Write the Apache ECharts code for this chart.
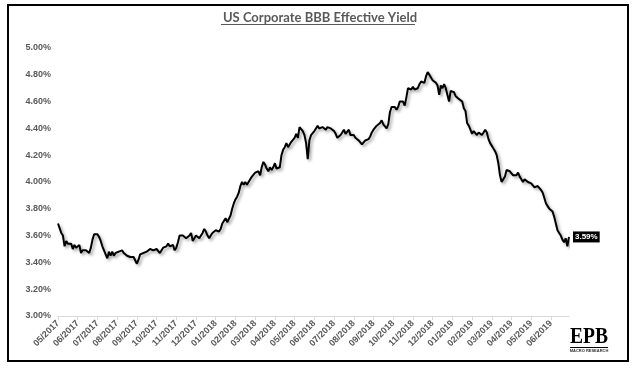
<!DOCTYPE html>
<html>
<head>
<meta charset="utf-8">
<script src="https://cdn.jsdelivr.net/npm/echarts@6/dist/echarts.min.js"></script>
<style>
html,body{margin:0;padding:0;background:#fff;}
#chart{width:640px;height:372px;}
</style>
</head>
<body>
<div id="chart"></div>
<script>
// Month tick labels (x axis)
const months = ['05/2017','06/2017','07/2017','08/2017','09/2017','10/2017','11/2017','12/2017',
  '01/2018','02/2018','03/2018','04/2018','05/2018','06/2018','07/2018','08/2018','09/2018','10/2018','11/2018','12/2018',
  '01/2019','02/2019','03/2019','04/2019','05/2019','06/2019'];

// US Corporate BBB effective yield (%), twelve readings per month
const yields = [
  [3.69, 3.68, 3.62, 3.60, 3.52, 3.56, 3.54, 3.53, 3.54, 3.50, 3.53, 3.51],  // 05/2017
  [3.51, 3.53, 3.47, 3.49, 3.48, 3.49, 3.48, 3.47, 3.51, 3.57, 3.61, 3.62],  // 06/2017
  [3.61, 3.59, 3.56, 3.52, 3.49, 3.46, 3.43, 3.48, 3.45, 3.48, 3.45, 3.47],  // 07/2017
  [3.46, 3.48, 3.47, 3.49, 3.47, 3.46, 3.45, 3.46, 3.44, 3.43, 3.44, 3.43],  // 08/2017
  [3.39, 3.42, 3.46, 3.45, 3.47, 3.46, 3.48, 3.47, 3.50, 3.49, 3.49, 3.50],  // 09/2017
  [3.50, 3.50, 3.47, 3.48, 3.51, 3.50, 3.52, 3.54, 3.52, 3.51, 3.53, 3.49],  // 10/2017
  [3.51, 3.55, 3.60, 3.59, 3.60, 3.59, 3.58, 3.59, 3.60, 3.62, 3.56, 3.58],  // 11/2017
  [3.60, 3.59, 3.58, 3.60, 3.62, 3.65, 3.63, 3.60, 3.58, 3.60, 3.62, 3.63],  // 12/2017
  [3.64, 3.65, 3.63, 3.65, 3.69, 3.70, 3.73, 3.70, 3.71, 3.75, 3.80, 3.84],  // 01/2018
  [3.87, 3.89, 3.92, 3.97, 4.00, 3.98, 4.00, 3.98, 4.00, 4.02, 4.04, 4.05],  // 02/2018
  [4.07, 4.08, 4.08, 4.05, 4.11, 4.15, 4.13, 4.10, 4.08, 4.11, 4.09, 4.11],  // 03/2018
  [4.14, 4.10, 4.11, 4.11, 4.20, 4.24, 4.26, 4.29, 4.26, 4.28, 4.30, 4.31],  // 04/2018
  [4.33, 4.36, 4.33, 4.41, 4.40, 4.38, 4.35, 4.29, 4.17, 4.31, 4.35, 4.36],  // 05/2018
  [4.38, 4.40, 4.42, 4.40, 4.40, 4.41, 4.40, 4.39, 4.41, 4.42, 4.40, 4.39],  // 06/2018
  [4.38, 4.36, 4.33, 4.34, 4.35, 4.37, 4.39, 4.36, 4.37, 4.39, 4.35, 4.34],  // 07/2018
  [4.35, 4.33, 4.33, 4.31, 4.30, 4.28, 4.29, 4.31, 4.30, 4.32, 4.34, 4.37],  // 08/2018
  [4.39, 4.40, 4.42, 4.41, 4.44, 4.46, 4.43, 4.42, 4.40, 4.43, 4.52, 4.56],  // 09/2018
  [4.55, 4.56, 4.54, 4.56, 4.60, 4.59, 4.60, 4.57, 4.63, 4.70, 4.71, 4.69],  // 10/2018
  [4.71, 4.69, 4.69, 4.70, 4.73, 4.75, 4.76, 4.74, 4.79, 4.82, 4.80, 4.78],  // 11/2018
  [4.76, 4.77, 4.74, 4.72, 4.65, 4.72, 4.70, 4.73, 4.70, 4.71, 4.60, 4.68],  // 12/2018
  [4.69, 4.67, 4.64, 4.63, 4.62, 4.62, 4.60, 4.55, 4.53, 4.44, 4.42, 4.39],  // 01/2019
  [4.36, 4.38, 4.37, 4.35, 4.37, 4.36, 4.35, 4.37, 4.39, 4.37, 4.32, 4.29],  // 02/2019
  [4.28, 4.25, 4.23, 4.20, 4.14, 4.05, 4.00, 4.01, 4.04, 4.09, 4.08, 4.08],  // 03/2019
  [4.07, 4.05, 4.04, 4.05, 4.07, 4.04, 4.02, 4.00, 4.02, 4.03, 4.00, 3.99],  // 04/2019
  [3.99, 3.98, 3.96, 3.95, 3.97, 3.96, 3.94, 3.92, 3.88, 3.84, 3.82, 3.80],  // 05/2019
  [3.81, 3.78, 3.74, 3.69, 3.64, 3.62, 3.60, 3.57, 3.55, 3.58, 3.52, 3.59]   // 06/2019
];

const yTicks = [3.0, 3.2, 3.4, 3.6, 3.8, 4.0, 4.2, 4.4, 4.6, 4.8, 5.0];
const titleText = 'US Corporate BBB Effective Yield';
const endLabelText = '3.59%';
const perMonth = 12;

// build category list and series values
const categories = [];
const values = [];
months.forEach((m, mi) => {
  yields[mi].forEach((v, j) => {
    categories.push(j === 0 ? m : m + '#' + j);
    values.push(v);
  });
});

const chart = echarts.init(document.getElementById('chart'), null, {renderer: 'canvas'});
const gray = '#595959';
chart.setOption({
  animation: false,
  backgroundColor: '#ffffff',
  grid: {left: 58, right: 71, top: 48, bottom: 56, containLabel: false},
  xAxis: {
    type: 'category',
    data: categories,
    boundaryGap: false,
    axisLine: {show: true, lineStyle: {color: '#d9d9d9', width: 1}},
    axisTick: {show: true, interval: perMonth - 1, length: 4, lineStyle: {color: '#d9d9d9'}},
    axisLabel: {
      interval: perMonth - 1, rotate: 45, margin: 6,
      color: gray, fontSize: 9, fontWeight: 'bold', fontFamily: 'Liberation Sans, Arial, sans-serif',
      formatter: v => v.split('#')[0]
    },
    splitLine: {show: false}
  },
  yAxis: {
    type: 'value',
    min: yTicks[0], max: yTicks[yTicks.length - 1], interval: 0.2,
    axisLine: {show: false}, axisTick: {show: false}, splitLine: {show: false},
    axisLabel: {
      margin: 7, color: gray, fontSize: 9, fontWeight: 'bold', fontFamily: 'Liberation Sans, Arial, sans-serif',
      formatter: v => v.toFixed(2) + '%'
    }
  },
  series: [{
    type: 'line',
    data: values,
    symbol: 'none',
    lineStyle: {color: '#000', width: 2, shadowColor: 'rgba(0,0,0,0.35)', shadowBlur: 3, shadowOffsetX: 2, shadowOffsetY: 2},
    endLabel: {
      show: true,
      formatter: () => endLabelText,
      backgroundColor: '#000', color: '#fff', fontSize: 8, fontWeight: 'bold',
      fontFamily: 'Liberation Sans, Arial, sans-serif',
      padding: [2, 2, 1, 2], distance: 4
    }
  }],
  graphic: [
    {type: 'rect', shape: {x: 8, y: 5, width: 620, height: 356}, style: {fill: 'none', stroke: '#000', lineWidth: 2}, silent: true},
    {type: 'text', x: 320, y: 18, style: {text: titleText, fill: gray, font: 'bold 13px "Liberation Sans Narrow", Lato, sans-serif', textAlign: 'center', textVerticalAlign: 'middle'}},
    {type: 'line', shape: {x1: 221, y1: 24.5, x2: 415, y2: 24.5}, style: {stroke: gray, lineWidth: 1}},
    {type: 'text', x: 589, y: 337, scaleX: 0.85, scaleY: 1, originX: 0, originY: 0, style: {text: 'EPB', fill: '#000', font: 'bold 23px "Liberation Serif", "DejaVu Serif", serif', textAlign: 'center', textVerticalAlign: 'middle'}},
    {type: 'line', shape: {x1: 570, y1: 347.5, x2: 608, y2: 347.5}, style: {stroke: '#000', lineWidth: 1}},
    {type: 'text', x: 589, y: 351, style: {text: 'MACRO RESEARCH', fill: '#333', font: 'bold 4px "Liberation Sans", sans-serif', textAlign: 'center', textVerticalAlign: 'middle'}}
  ]
});
</script>
</body>
</html>
